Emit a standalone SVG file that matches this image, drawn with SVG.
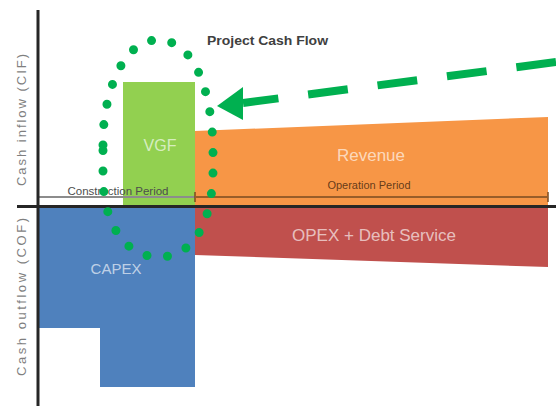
<svg xmlns="http://www.w3.org/2000/svg" width="556" height="406" viewBox="0 0 556 406">
  <defs>
    <style>
      .axis { stroke: #262626; stroke-width: 3; fill: none; }
      .dim { stroke-width: 2; fill: none; }
      .lbl { font-family: "Liberation Sans", Arial, sans-serif; }
      .bar-lbl { font-family: "Liberation Sans", Arial, sans-serif; text-anchor: middle; fill: #ffffff; fill-opacity: 0.65; }
      .axis-lbl { font-family: "Liberation Sans", Arial, sans-serif; font-size: 13px; fill: #7f7f7f; text-anchor: middle; }
      .flow { stroke: #00B050; fill: none; }
    </style>
  </defs>
  <rect width="556" height="406" fill="#ffffff"/>

  <!-- Cash flow blocks -->
  <g id="vgf">
    <rect x="123" y="82" width="72" height="125" fill="#92D050"/>
    <text class="bar-lbl" x="160" y="151" font-size="16">VGF</text>
  </g>
  <g id="revenue">
    <polygon points="195,131 548,117 548,207 195,207" fill="#F79646"/>
    <text class="bar-lbl" x="371" y="161" font-size="17">Revenue</text>
  </g>
  <g id="opex">
    <polygon points="195,207 548,207 548,267 195,255" fill="#C0504D"/>
    <text class="bar-lbl" x="374" y="241" font-size="17">OPEX + Debt Service</text>
  </g>
  <g id="capex">
    <polygon points="38,207 195,207 195,387 100,387 100,328 38,328" fill="#4F81BD"/>
    <text class="bar-lbl" x="116" y="274" font-size="15">CAPEX</text>
  </g>

  <!-- Period dimension lines -->
  <g id="construction-period">
    <path class="dim" stroke="#8c8c8c" d="M38,197 H195 M38,192 V201"/>
    <text class="lbl" x="118" y="195" font-size="11.5" fill="#4d4d4d" text-anchor="middle">Construction Period</text>
  </g>
  <g id="operation-period">
    <path class="dim" stroke="#7a4a20" stroke-opacity="0.75" d="M195,197 H548 M195,192 V202 M548,192 V202"/>
    <text class="lbl" x="369" y="189" font-size="11" fill="#4a2a10" fill-opacity="0.85" text-anchor="middle">Operation Period</text>
  </g>

  <!-- Axes -->
  <g id="axes">
    <path class="axis" d="M38,10 V406"/>
    <path class="axis" d="M17,206.5 H556"/>
    <text class="axis-lbl" transform="translate(26,120) rotate(-90)" textLength="132" lengthAdjust="spacing">Cash inflow (CIF)</text>
    <text class="axis-lbl" transform="translate(26,297) rotate(-90)" textLength="158" lengthAdjust="spacing">Cash outflow (COF)</text>
  </g>

  <g id="title">
    <text class="lbl" x="207" y="45" font-size="12" font-weight="bold" fill="#404040" textLength="121" lengthAdjust="spacingAndGlyphs">Project Cash Flow</text>
  </g>

  <!-- Connectors -->
  <g id="connectors">
    <path class="flow" stroke-width="9" stroke-linecap="round" stroke-dasharray="0 20.5"
          d="M103,145 C102,105 118,40 158,40 C196,40 212,95 213,148 L213,172 C212,225 192,257 159,257 C124,257 104,222 103,180 Z"/>
    <path class="flow" stroke-width="8" stroke-dasharray="40 30" d="M556,62 L243,103"/>
    <polygon points="217,106 243,87 243,120" fill="#00B050"/>
  </g>
</svg>
